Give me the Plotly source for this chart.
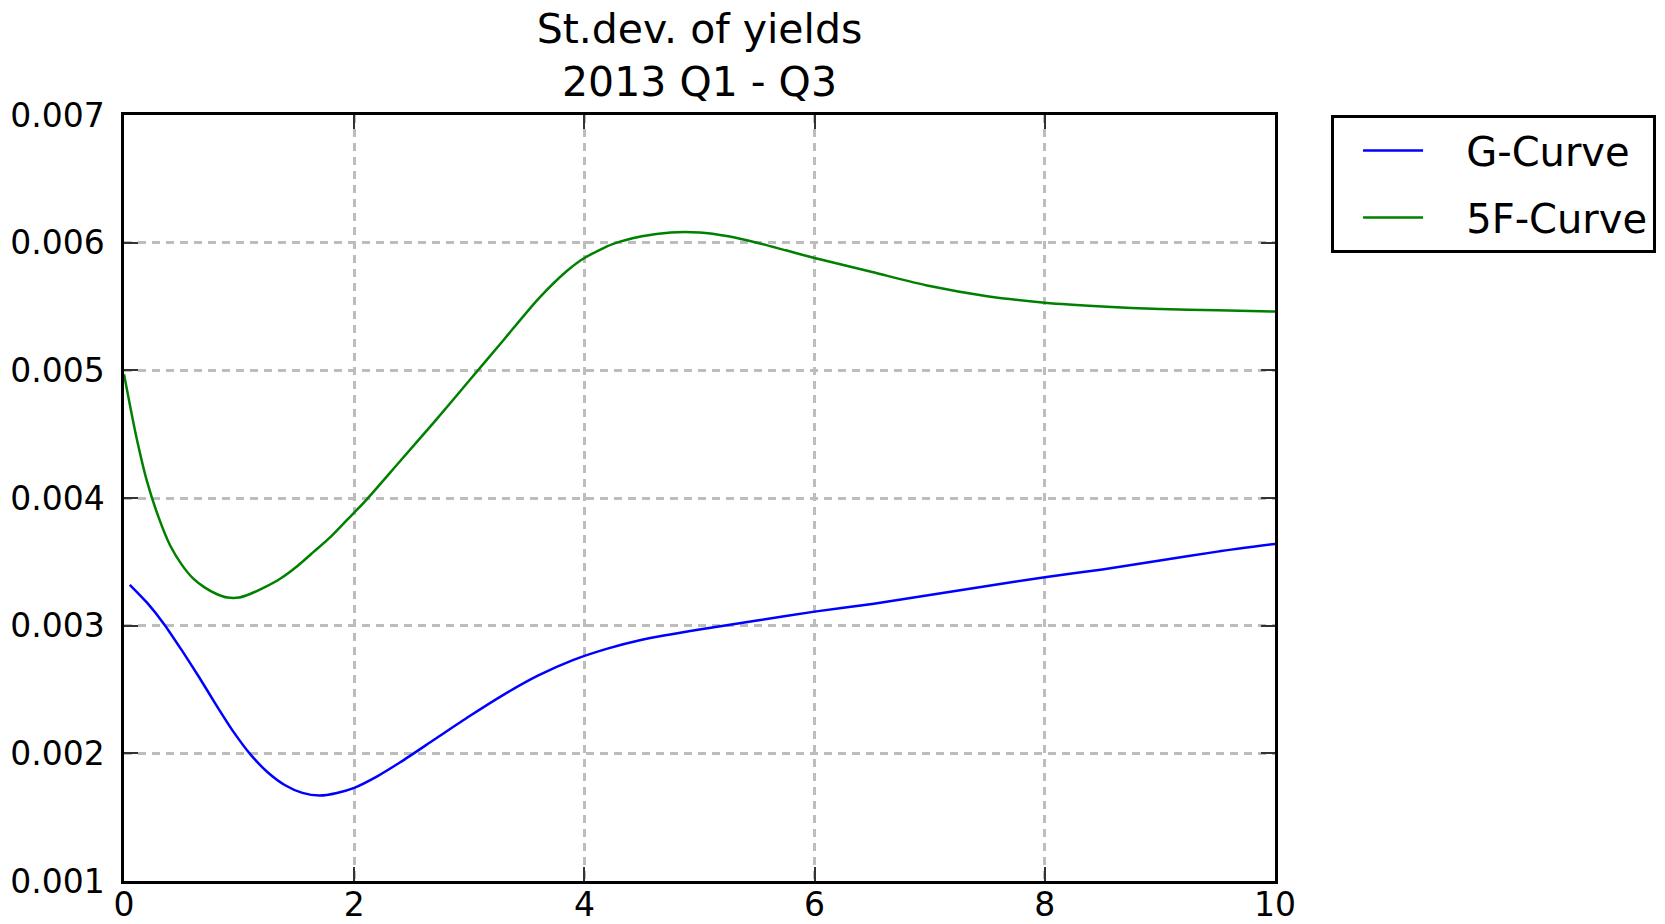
import plotly.graph_objects as go

# ---- data ----
g_x = [0.05, 0.2, 0.35, 0.5, 0.65, 0.8, 0.95, 1.1, 1.25, 1.4, 1.55, 1.7, 1.85, 2.0,
       2.2, 2.4, 2.7, 3.0, 3.3, 3.6, 3.9, 4.2, 4.5, 5.0, 5.5, 6.0, 6.5, 7.0, 7.5,
       8.0, 8.5, 9.0, 9.5, 10.0]
g_y = [0.00332, 0.00318, 0.00301, 0.00281, 0.00260, 0.00238, 0.00217, 0.00199,
       0.00185, 0.00175, 0.00169, 0.00167, 0.00169, 0.00173, 0.00182, 0.00193,
       0.00211, 0.00229, 0.00246, 0.00261, 0.00273, 0.00282, 0.00289, 0.00297,
       0.00304, 0.00311, 0.00317, 0.00324, 0.00331, 0.00338, 0.00344, 0.00351,
       0.00358, 0.00364]

f_x = [0.0, 0.1, 0.2, 0.3, 0.4, 0.5, 0.6, 0.7, 0.8, 0.9, 1.0, 1.1, 1.22, 1.36,
       1.51, 1.65, 1.8, 1.94, 2.1, 2.4, 2.7, 3.0, 3.3, 3.6, 3.85, 4.0, 4.25, 4.5,
       4.75, 5.0, 5.25, 5.5, 5.75, 6.0, 6.5, 7.0, 7.5, 8.0, 8.5, 9.0, 9.5, 10.0]
f_y = [0.00497, 0.00451, 0.00413, 0.00385, 0.00363, 0.00348, 0.00337, 0.00330,
       0.00325, 0.00322, 0.00322, 0.00325, 0.00330, 0.00337, 0.00347, 0.00358,
       0.00370, 0.00383, 0.00398, 0.00429, 0.00460, 0.00492, 0.00524, 0.00556,
       0.00578, 0.00588, 0.00599, 0.00605, 0.00608, 0.00608, 0.00605, 0.00600,
       0.00594, 0.00588, 0.00577, 0.00566, 0.00558, 0.00553, 0.00550, 0.00548,
       0.00547, 0.00546]

series_names = ["G-Curve", "5F-Curve"]
title_lines = ["St.dev. of yields", "2013 Q1 - Q3"]
x_ticks = [0, 2, 4, 6, 8, 10]
y_ticks = [0.001, 0.002, 0.003, 0.004, 0.005, 0.006, 0.007]

FONT = "DejaVu Sans"
PAD = "\u00a0" * 3

# the page body adds an 8px margin; the figure is sized to fill the rest
FIG_W, FIG_H = 1657, 916

fig = go.Figure()
fig.add_trace(go.Scatter(x=g_x, y=g_y, mode="lines", name=PAD + series_names[0],
                         line=dict(color="#0000ff", width=2.5, shape="spline", smoothing=0.7),
                         legendgroup="a"))
fig.add_trace(go.Scatter(x=f_x, y=f_y, mode="lines", name=PAD + series_names[1],
                         line=dict(color="#008000", width=2.5, shape="spline", smoothing=0.7),
                         legendgroup="b"))

axis_common = dict(
    showline=True, mirror="allticks", linecolor="black", linewidth=2.5,
    ticks="inside", ticklen=14, tickwidth=1.5, tickcolor="#333333",
    showgrid=True, gridcolor="#bdbdbd", gridwidth=2.5, griddash="8px,6px",
    zeroline=False, automargin=False,
    tickfont=dict(family=FONT, size=33, color="black"),
)

fig.update_xaxes(range=[0, 10], tickvals=x_ticks, ticktext=[str(v) for v in x_ticks],
                 ticklabelstandoff=-7, **axis_common)
fig.update_yaxes(range=[0.001, 0.007], tickvals=y_ticks,
                 ticktext=[f"{v:.3f}" for v in y_ticks], ticklabelstandoff=10,
                 **axis_common)

fig.update_layout(
    width=FIG_W, height=FIG_H,
    margin=dict(l=116, r=390, t=107, b=43, autoexpand=False),
    paper_bgcolor="white", plot_bgcolor="white",
    title=dict(text="<br>".join(title_lines), x=0.5, xref="paper",
               y=0.962, yref="container", yanchor="top",
               font=dict(family=FONT, size=41, color="black")),
    legend=dict(x=1.0487, xanchor="left", y=1.0, yanchor="top",
                bordercolor="black", borderwidth=3, bgcolor="white",
                font=dict(family=FONT, size=40, color="black"),
                itemwidth=60, indentation=24, tracegroupgap=12,
                traceorder="grouped"),
    showlegend=True,
)

fig.write_html("out.html")
